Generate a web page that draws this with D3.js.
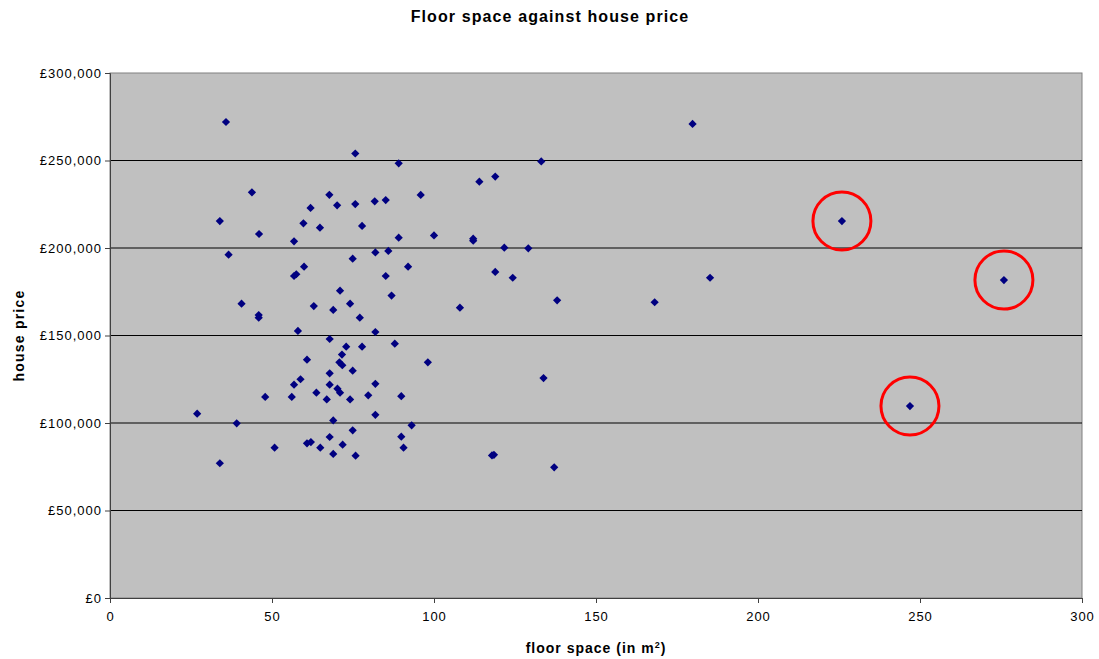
<!DOCTYPE html>
<html>
<meta charset='utf-8'>
<head>
<title>Floor space against house price</title>
<script src='https://d3js.org/d3.v7.min.js'></script>
<style>
body { margin: 0; background: #fff; }
text { font-family: 'Liberation Sans', Arial, sans-serif; }
</style>
</head>

<body>
<div id='chart'></div>

<script>
// floor space in m2 and price in pounds, one entry per house
var floorSpace = [35.8, 75.7, 43.8, 67.7, 61.9, 70.1, 75.7, 81.7, 33.9, 46.0,
    59.7, 64.8, 77.8, 56.8, 36.6, 74.9, 81.9, 179.8, 89.1, 133.1,
    114.0, 118.9, 85.1, 95.9, 89.1, 100.0, 112.1, 112.1, 85.9, 121.7,
    129.1, 92.0, 85.1, 118.9, 124.3, 185.2, 86.9, 108.0, 138.0, 168.1,
    87.9, 98.1, 133.8, 89.9, 93.1, 89.9, 90.6, 117.9, 118.5, 137.1,
    59.9, 57.5, 56.8, 71.0, 40.6, 62.9, 68.9, 74.1, 45.9, 45.9,
    77.1, 58.0, 81.9, 67.8, 72.9, 77.8, 71.6, 60.8, 70.8, 71.7,
    74.9, 67.8, 58.8, 56.8, 67.8, 81.9, 70.2, 71.0, 63.7, 47.9,
    56.1, 66.9, 74.1, 79.7, 26.9, 81.9, 39.1, 68.9, 74.9, 67.8,
    60.8, 62.0, 50.8, 64.9, 71.8, 68.9, 75.8, 33.9, 225.9, 275.9,
    246.9]
var housePrice = [272000, 254000, 231800, 230400, 222900, 224400, 225100, 226700, 215400, 208000,
    214100, 211600, 212600, 203800, 196200, 193900, 197500, 270900, 248400, 249500,
    237900, 240800, 227400, 230300, 205900, 207200, 205300, 204200, 198300, 200200,
    199800, 189300, 184000, 186300, 183000, 183000, 172800, 165900, 170100, 169000,
    145300, 134700, 125700, 115300, 98700, 92200, 85900, 81500, 81800, 74700,
    189300, 185000, 184000, 175600, 168200, 166800, 164600, 168200, 161700, 160200,
    160200, 152600, 152000, 148000, 143600, 143600, 139100, 136200, 134700, 133000,
    129900, 128400, 125000, 121900, 121900, 122400, 119600, 117300, 117300, 114900,
    114900, 113500, 113500, 115800, 105300, 104700, 99800, 101500, 95800, 92000,
    88400, 89100, 85900, 85900, 87600, 82300, 81300, 77000, 215400, 181700,
    109700]

// the three circled houses
var outlierSpace = [225.9, 275.9, 246.9]
var outlierPrice = [215400, 181700, 109700]

var xTicks = [0, 50, 100, 150, 200, 250, 300]
var yTicks = [0, 50000, 100000, 150000, 200000, 250000, 300000]

var margin = {top: 73, right: 17, bottom: 61, left: 110},
    width = 1099 - margin.left - margin.right,
    height = 659 - margin.top - margin.bottom;

var svg = d3.select('#chart')
    .append('svg')
    .attr('width', 1099)
    .attr('height', 659)

svg.append('text')
    .attr('x', 550)
    .attr('y', 22)
    .attr('text-anchor', 'middle')
    .attr('font-size', 16)
    .attr('font-weight', 'bold')
    .style('letter-spacing', '1.1px')
    .text('Floor space against house price')

var g = svg.append('g')
    .attr('transform', 'translate(' + margin.left + ',' + margin.top + ')')

var x = d3.scaleLinear().domain([0, 300]).range([0, width])
var y = d3.scaleLinear().domain([0, 300000]).range([height, 0])

g.append('rect')
    .attr('width', width)
    .attr('height', height)
    .style('fill', '#c0c0c0')
    .style('stroke', '#808080')

// gridlines
g.selectAll('.grid')
    .data(yTicks.slice(1, -1))
    .enter()
    .append('line')
    .attr('x1', 0)
    .attr('x2', width)
    .attr('y1', (d) => y(d))
    .attr('y2', (d) => y(d))
    .style('stroke', '#000')
    .style('stroke-width', 1)

var fmt = function(d) { return '£' + d3.format(',')(d) }

var yAxis = g.append('g')
    .call(d3.axisLeft(y).tickValues(yTicks).tickFormat(fmt).tickSize(5).tickPadding(3))
var xAxis = g.append('g')
    .attr('transform', 'translate(0,' + height + ')')
    .call(d3.axisBottom(x).tickValues(xTicks).tickSize(5).tickPadding(9))

svg.selectAll('.domain, .tick line').style('stroke', '#404040')
svg.selectAll('.tick text').attr('font-size', 13).style('fill', '#000')
    .attr('font-family', "'Liberation Sans', Arial, sans-serif")
    .style('letter-spacing', '1px')

// points, drawn as squares turned 45 degrees
g.selectAll('.pt')
    .data(floorSpace)
    .enter()
    .append('path')
    .attr('d', d3.symbol().type(d3.symbolSquare).size(34))
    .attr('transform', (d, i) => 'translate(' + x(d) + ',' + y(housePrice[i]) + ') rotate(45)')
    .style('fill', '#000080')

g.selectAll('.ring')
    .data(outlierSpace)
    .enter()
    .append('circle')
    .attr('cx', (d) => x(d))
    .attr('cy', (d, i) => y(outlierPrice[i]))
    .attr('r', 29)
    .style('fill', 'none')
    .style('stroke', '#ff0000')
    .style('stroke-width', 3)

svg.append('text')
    .attr('transform', 'translate(24,' + (margin.top + height / 2) + ') rotate(-90)')
    .attr('text-anchor', 'middle')
    .attr('font-size', 14)
    .attr('font-weight', 'bold')
    .style('letter-spacing', '1.2px')
    .text('house price')

var xt = svg.append('text')
    .attr('x', margin.left + width / 2)
    .attr('y', 653)
    .attr('text-anchor', 'middle')
    .attr('font-size', 14)
    .attr('font-weight', 'bold')
    .style('letter-spacing', '1px')
xt.append('tspan').text('floor space (in m')
xt.append('tspan').attr('font-size', 9).attr('dy', -5).text('2')
xt.append('tspan').attr('dy', 5).text(')')
</script>
</body>
</html>
